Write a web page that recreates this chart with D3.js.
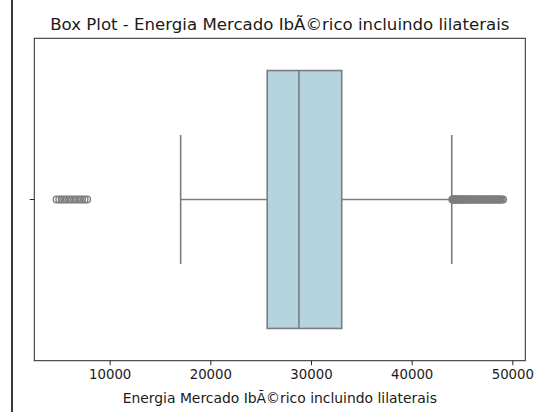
<!DOCTYPE html>
<html>
<head>
<meta charset="utf-8">
<script src="https://cdn.jsdelivr.net/npm/d3@7"></script>
<style>
  html, body { margin: 0; padding: 0; background: #ffffff; }
  svg { display: block; }
  text { font-family: "DejaVu Sans", sans-serif; fill: #1a1a1a; }
</style>
</head>
<body>
<svg id="chart" width="534" height="412"></svg>
<script>
// Summary statistics of the distribution (MWh)
const categories = [""];
const lowerWhisker = [17050];
const q1 = [25650];
const median = [28800];
const q3 = [33050];
const upperWhisker = [43980];

// Points beyond the whiskers
const lowOutliers = [4730, 5000, 5250, 5500, 5750, 6000, 6250, 6500, 6750, 7000, 7250, 7500, 7750];
const highOutliers = [44050, 44110, 44170, 44230, 44290, 44350, 44420, 44490, 44560, 44630,
  44700, 44780, 44860, 44940, 45020, 45100, 45190, 45280, 45370, 45460, 45560, 45660,
  45760, 45860, 45960, 46070, 46180, 46290, 46400, 46510, 46620, 46730, 46840, 46950,
  47060, 47170, 47280, 47390, 47500, 47610, 47720, 47830, 47940, 48050, 48160, 48270,
  48380, 48490, 48600, 48710, 48820, 48930, 49070];

const xTicks = [10000, 20000, 30000, 40000, 50000];

const title = "Box Plot - Energia Mercado IbÃ©rico incluindo lilaterais";
const xLabel = "Energia Mercado IbÃ©rico incluindo lilaterais";

const svg = d3.select("#chart");
const plot = { left: 34.3, right: 525.3, top: 38.3, bottom: 360.7 };
const lineGrey = "#7d7d7d";
const boxFill = "#b5d4df";

// Data limits with a 5% pad on each side
const allVals = lowOutliers.concat(highOutliers, lowerWhisker, upperWhisker);
const lo = d3.min(allVals), hi = d3.max(allVals);
const pad = (hi - lo) * 0.05;

const x = d3.scaleLinear().domain([lo - pad, hi + pad]).range([plot.left, plot.right]);
const y = d3.scaleBand().domain(categories).range([plot.top, plot.bottom]).padding(0);

// Page edge rule on the left
svg.append("line")
  .attr("x1", 12).attr("x2", 12).attr("y1", 0).attr("y2", 412)
  .attr("stroke", "#3a3a3a").attr("stroke-width", 2);

const g = svg.append("g");

categories.forEach((c, i) => {
  const cy = y(c) + y.bandwidth() / 2;
  const boxH = y.bandwidth() * 0.8;
  const capH = boxH * 0.5;

  // whiskers
  g.append("line")
    .attr("x1", x(lowerWhisker[i])).attr("x2", x(q1[i]))
    .attr("y1", cy).attr("y2", cy)
    .attr("stroke", lineGrey).attr("stroke-width", 1.6);
  g.append("line")
    .attr("x1", x(q3[i])).attr("x2", x(upperWhisker[i]))
    .attr("y1", cy).attr("y2", cy)
    .attr("stroke", lineGrey).attr("stroke-width", 1.6);

  // caps
  [lowerWhisker[i], upperWhisker[i]].forEach(v => {
    g.append("line")
      .attr("x1", x(v)).attr("x2", x(v))
      .attr("y1", cy - capH / 2).attr("y2", cy + capH / 2)
      .attr("stroke", lineGrey).attr("stroke-width", 1.6);
  });

  // box
  g.append("rect")
    .attr("x", x(q1[i])).attr("width", x(q3[i]) - x(q1[i]))
    .attr("y", cy - boxH / 2).attr("height", boxH)
    .attr("fill", boxFill).attr("stroke", lineGrey).attr("stroke-width", 1.6);

  // median
  g.append("line")
    .attr("x1", x(median[i])).attr("x2", x(median[i]))
    .attr("y1", cy - boxH / 2).attr("y2", cy + boxH / 2)
    .attr("stroke", lineGrey).attr("stroke-width", 1.6);

  // outliers
  g.selectAll(null)
    .data(lowOutliers.concat(highOutliers))
    .enter().append("circle")
    .attr("cx", d => x(d)).attr("cy", cy).attr("r", 3.4)
    .attr("fill", "none").attr("stroke", lineGrey).attr("stroke-width", 1.4);
});

// Frame
svg.append("rect")
  .attr("x", plot.left).attr("y", plot.top)
  .attr("width", plot.right - plot.left).attr("height", plot.bottom - plot.top)
  .attr("fill", "none").attr("stroke", "#262626").attr("stroke-width", 1);

// X axis
const xAxis = svg.append("g")
  .attr("transform", `translate(0,${plot.bottom})`)
  .call(d3.axisBottom(x).tickValues(xTicks).tickFormat(d3.format("d")).tickSize(4.5).tickPadding(4));
xAxis.select(".domain").remove();
xAxis.selectAll(".tick line").attr("stroke", "#262626").attr("stroke-width", 1);
xAxis.selectAll(".tick text").attr("font-size", 13.3).attr("font-family", "DejaVu Sans").attr("fill", "#1a1a1a");

// Y axis (single unlabeled tick)
const yAxis = svg.append("g")
  .attr("transform", `translate(${plot.left},0)`)
  .call(d3.axisLeft(y).tickSize(4.5));
yAxis.select(".domain").remove();
yAxis.selectAll(".tick line").attr("stroke", "#262626").attr("stroke-width", 1);

// Labels
svg.append("text")
  .attr("x", (plot.left + plot.right) / 2).attr("y", 30)
  .attr("text-anchor", "middle").attr("font-size", 16.6)
  .text(title);

svg.append("text")
  .attr("x", (plot.left + plot.right) / 2).attr("y", 403)
  .attr("text-anchor", "middle").attr("font-size", 13.9)
  .text(xLabel);
</script>
</body>
</html>
